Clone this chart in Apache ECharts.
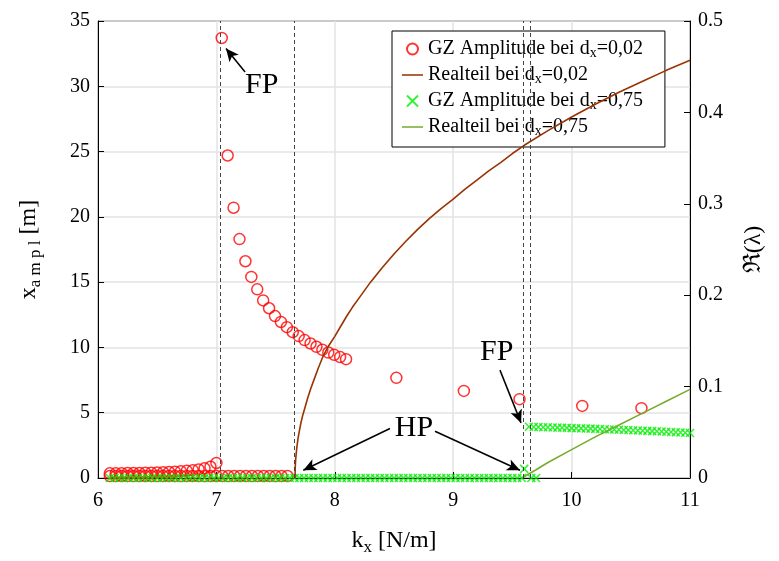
<!DOCTYPE html>
<html>
<head>
<meta charset="utf-8">
<script src="https://cdn.jsdelivr.net/npm/echarts@6/dist/echarts.min.js"></script>
<style>
  html, body { margin: 0; padding: 0; background: #fff; }
  #chart { width: 779px; height: 561px; }
</style>
</head>
<body>
<div id="chart"></div>
<script>
// GZ Amplitude d_x = 0,02 (rote Kreise)
var redLowX = [6.10, 6.15, 6.20, 6.25, 6.30, 6.35, 6.40, 6.45, 6.50, 6.55, 6.60, 6.65, 6.70, 6.75, 6.80, 6.85,
  6.90, 6.95, 7.00, 7.05, 7.10, 7.15, 7.20, 7.25, 7.30, 7.35, 7.40, 7.45, 7.50, 7.55, 7.60];
var redLowY = 0.15;
var redUpX = [6.10, 6.15, 6.20, 6.25, 6.30, 6.35, 6.40, 6.45, 6.50, 6.55, 6.60, 6.65, 6.70, 6.75, 6.80, 6.85, 6.90, 6.95, 7.00];
var redUpY = [0.36, 0.36, 0.37, 0.38, 0.38, 0.39, 0.40, 0.41, 0.42, 0.44, 0.46, 0.48, 0.51, 0.55, 0.60, 0.66, 0.74, 0.86, 1.15];
var redHighX = [7.045, 7.095, 7.145, 7.195, 7.245, 7.295, 7.345, 7.395, 7.445, 7.495, 7.545, 7.595, 7.645, 7.695,
  7.745, 7.795, 7.845, 7.895, 7.945, 7.995, 8.045, 8.095, 8.52, 9.09, 9.56, 10.09, 10.59];
var redHighY = [33.7, 24.7, 20.7, 18.3, 16.6, 15.4, 14.45, 13.6, 13.0, 12.4, 11.95, 11.55, 11.17, 10.87,
  10.56, 10.3, 10.05, 9.82, 9.61, 9.43, 9.26, 9.1, 7.67, 6.67, 6.04, 5.52, 5.35];

// Realteil d_x = 0,02
var brownX = [7.664, 7.666, 7.67, 7.675, 7.68, 7.69, 7.70, 7.715, 7.73, 7.75, 7.77, 7.795, 7.82, 7.86, 7.90,
  7.95, 8.0, 8.05, 8.1, 8.15, 8.2, 8.3, 8.4, 8.5, 8.6, 8.7, 8.8, 8.9,
  9.0, 9.1, 9.2, 9.3, 9.4, 9.5, 9.6, 9.8, 10.0, 10.2, 10.4, 10.6, 10.8, 11.0];
var brownY = [0, 0.012, 0.021, 0.028, 0.034, 0.044, 0.051, 0.061, 0.069, 0.078, 0.087, 0.097, 0.106, 0.120,
  0.133, 0.145, 0.155, 0.166, 0.177, 0.187, 0.196, 0.214, 0.230, 0.245,
  0.259, 0.272, 0.284, 0.295, 0.305, 0.316, 0.326, 0.336, 0.345, 0.355, 0.364, 0.380, 0.395, 0.409, 0.422,
  0.434, 0.446, 0.457];

// GZ Amplitude d_x = 0,75 (gruene Kreuze)
var greenLowX = [6.10, 6.14, 6.18, 6.22, 6.26, 6.30, 6.34, 6.38, 6.42, 6.46, 6.50, 6.54, 6.58, 6.62, 6.66, 6.70,
  6.74, 6.78, 6.82, 6.86, 6.90, 6.94, 6.98, 7.02, 7.06, 7.10, 7.14, 7.18, 7.22, 7.26, 7.30, 7.34, 7.38, 7.42,
  7.46, 7.50, 7.54, 7.58, 7.62, 7.66, 7.70, 7.74, 7.78, 7.82, 7.86, 7.90, 7.94, 7.98, 8.02, 8.06, 8.10, 8.14,
  8.18, 8.22, 8.26, 8.30, 8.34, 8.38, 8.42, 8.46, 8.50, 8.54, 8.58, 8.62, 8.66, 8.70, 8.74, 8.78, 8.82, 8.86,
  8.90, 8.94, 8.98, 9.02, 9.06, 9.10, 9.14, 9.18, 9.22, 9.26, 9.30, 9.34, 9.38, 9.42, 9.46, 9.50, 9.54, 9.58,
  9.66, 9.70];
var greenHopf = [9.60, 0.7];
var greenUpX = [9.64, 9.68, 9.72, 9.76, 9.80, 9.84, 9.88, 9.92, 9.96, 10.00, 10.04, 10.08, 10.12, 10.16, 10.20,
  10.24, 10.28, 10.32, 10.36, 10.40, 10.44, 10.48, 10.52, 10.56, 10.60, 10.64, 10.68, 10.72, 10.76, 10.80,
  10.84, 10.88, 10.92, 10.96, 11.00];
var greenUpY = [3.92, 3.91, 3.90, 3.89, 3.88, 3.87, 3.86, 3.85, 3.84, 3.82, 3.81, 3.80, 3.79, 3.78, 3.76,
  3.75, 3.74, 3.72, 3.71, 3.70, 3.68, 3.67, 3.65, 3.64, 3.62, 3.61, 3.59, 3.58, 3.56, 3.54,
  3.53, 3.51, 3.49, 3.47, 3.45];

// Realteil d_x = 0,75
var oliveX = [9.58, 9.7, 9.8, 10.0, 10.2, 10.4, 10.6, 10.8, 11.0];
var oliveY = [0, 0.009, 0.017, 0.031, 0.045, 0.058, 0.071, 0.084, 0.097];

// senkrechte Linien (FP / HP)
var vLines = [7.03, 7.664, 9.592, 9.649];

var names = ['GZ Amplitude bei dx=0,02', 'Realteil bei dx=0,02', 'GZ Amplitude bei dx=0,75', 'Realteil bei dx=0,75'];
var richNames = {};
richNames[names[0]] = 'GZ Amplitude bei d{s|x}=0,02';
richNames[names[1]] = 'Realteil bei d{s|x}=0,02';
richNames[names[2]] = 'GZ Amplitude bei d{s|x}=0,75';
richNames[names[3]] = 'Realteil bei d{s|x}=0,75';

function zip(xs, ys) {
  var out = [];
  for (var i = 0; i < xs.length; i++) out.push([xs[i], ys[i]]);
  return out;
}

var redData = redLowX.map(function (x) { return [x, redLowY]; })
  .concat(zip(redUpX, redUpY), zip(redHighX, redHighY));
var greenData = greenLowX.map(function (x) { return [x, 0]; })
  .concat([greenHopf], zip(greenUpX, greenUpY));

var font = 'Liberation Serif';
var subRich = {
  n: { fontFamily: font, fontSize: 24, lineHeight: 30, color: '#000' },
  s: { fontFamily: font, fontSize: 17, lineHeight: 17, verticalAlign: 'bottom', color: '#000' }
};

var arrowStyle = { color: '#000', width: 1.5, type: 'solid' };
function arrow(a, b) {
  return [{ coord: a, symbol: 'none', lineStyle: arrowStyle },
          { coord: b, symbol: 'arrow', symbolSize: [9, 13] }];
}

var lineIcon = 'path://M0,0L22,0L22,1.6L0,1.6Z';

var myChart = echarts.init(document.getElementById('chart'));

var option = {
  animation: false,
  backgroundColor: '#fff',
  grid: { left: 98, right: 89, top: 21, bottom: 83, show: true, borderColor: '#000', borderWidth: 1 },
  legend: {
    orient: 'vertical',
    left: 392,
    top: 31,
    padding: [7, 22, 9, 10],
    itemGap: 4,
    itemWidth: 21,
    itemHeight: 11,
    backgroundColor: '#fff',
    borderColor: '#000',
    borderWidth: 1,
    data: [
      { name: names[0] },
      { name: names[1], icon: lineIcon },
      { name: names[2] },
      { name: names[3], icon: lineIcon }
    ],
    formatter: function (name) { return richNames[name]; },
    textStyle: {
      fontFamily: font, fontSize: 20, lineHeight: 22, color: '#000',
      rich: { s: { fontFamily: font, fontSize: 14, lineHeight: 14, verticalAlign: 'bottom', color: '#000' } }
    }
  },
  xAxis: {
    type: 'value',
    min: 6, max: 11, interval: 1,
    name: '{n|k}{s|x}{n| [N/m]}',
    nameLocation: 'middle',
    nameGap: 48,
    nameTextStyle: { rich: subRich },
    axisLine: { lineStyle: { color: '#000', width: 1 } },
    axisTick: { inside: true, length: 6, lineStyle: { color: '#000' } },
    axisLabel: { fontFamily: font, fontSize: 20, color: '#000', margin: 13 },
    splitLine: { show: true, lineStyle: { color: '#e3e3e3', width: 1.5 } }
  },
  yAxis: [{
    type: 'value',
    min: 0, max: 35, interval: 5,
    position: 'left',
    name: '{n|x}{s|a m p l}{n| [m]}',
    nameLocation: 'middle',
    nameRotate: 90,
    nameGap: 54,
    nameTextStyle: { rich: subRich },
    axisLine: { show: true, lineStyle: { color: '#000', width: 1 } },
    axisTick: { show: true, inside: true, length: 6, lineStyle: { color: '#000' } },
    axisLabel: { fontFamily: font, fontSize: 20, color: '#000', margin: 8 },
    splitLine: { show: true, lineStyle: { color: '#e3e3e3', width: 1.5 } }
  }, {
    type: 'value',
    min: 0, max: 0.5, interval: 0.1,
    position: 'right',
    name: 'ℜ(λ)',
    nameLocation: 'middle',
    nameRotate: 90,
    nameGap: 52,
    nameTextStyle: { fontFamily: font + ', DejaVu Serif', fontSize: 24, color: '#000' },
    axisLine: { show: true, lineStyle: { color: '#000', width: 1 } },
    axisTick: { show: true, inside: true, length: 6, lineStyle: { color: '#000' } },
    axisLabel: { fontFamily: font, fontSize: 20, color: '#000', margin: 8 },
    splitLine: { show: false }
  }],
  series: [{
    name: names[0],
    type: 'scatter',
    data: redData,
    symbol: 'circle',
    symbolSize: 11,
    itemStyle: { color: 'rgba(0,0,0,0)', borderColor: '#ff0000', borderWidth: 1.5 },
    z: 2,
    markLine: {
      silent: true,
      symbol: ['none', 'none'],
      label: { show: false },
      data: vLines.map(function (v) {
        return { xAxis: v, lineStyle: { color: '#444', width: 1, type: [4, 3] } };
      }).concat([
        arrow([7.242, 31.1], [7.081, 32.9]),
        arrow([8.466, 3.79], [7.734, 0.59]),
        arrow([8.846, 3.58], [9.564, 0.59]),
        arrow([9.395, 8.26], [9.573, 4.22])
      ])
    },
    markPoint: {
      silent: true,
      symbol: 'circle',
      symbolSize: 0,
      label: {
        show: true, position: 'inside', fontFamily: font, fontSize: 30, color: '#000',
        formatter: function (p) { return p.name; }
      },
      data: [
        { name: 'FP', coord: [7.383, 30.1] },
        { name: 'HP', coord: [8.669, 3.79] },
        { name: 'FP', coord: [9.367, 9.66] }
      ]
    }
  }, {
    name: names[1],
    type: 'line',
    yAxisIndex: 1,
    data: zip(brownX, brownY),
    showSymbol: false,
    symbol: 'none',
    lineStyle: { color: '#993300', width: 1.6 },
    itemStyle: { color: '#993300' },
    z: 4
  }, {
    name: names[2],
    type: 'scatter',
    data: greenData,
    symbol: 'path://M0,0L10,10M10,0L0,10',
    symbolSize: 8,
    itemStyle: { color: 'rgba(0,0,0,0)', borderColor: '#00ee00', borderWidth: 1.5 },
    z: 3
  }, {
    name: names[3],
    type: 'line',
    yAxisIndex: 1,
    data: zip(oliveX, oliveY),
    showSymbol: false,
    symbol: 'none',
    lineStyle: { color: '#77ac30', width: 1.6 },
    itemStyle: { color: '#77ac30' },
    z: 4
  }]
};

myChart.setOption(option);
</script>
</body>
</html>
